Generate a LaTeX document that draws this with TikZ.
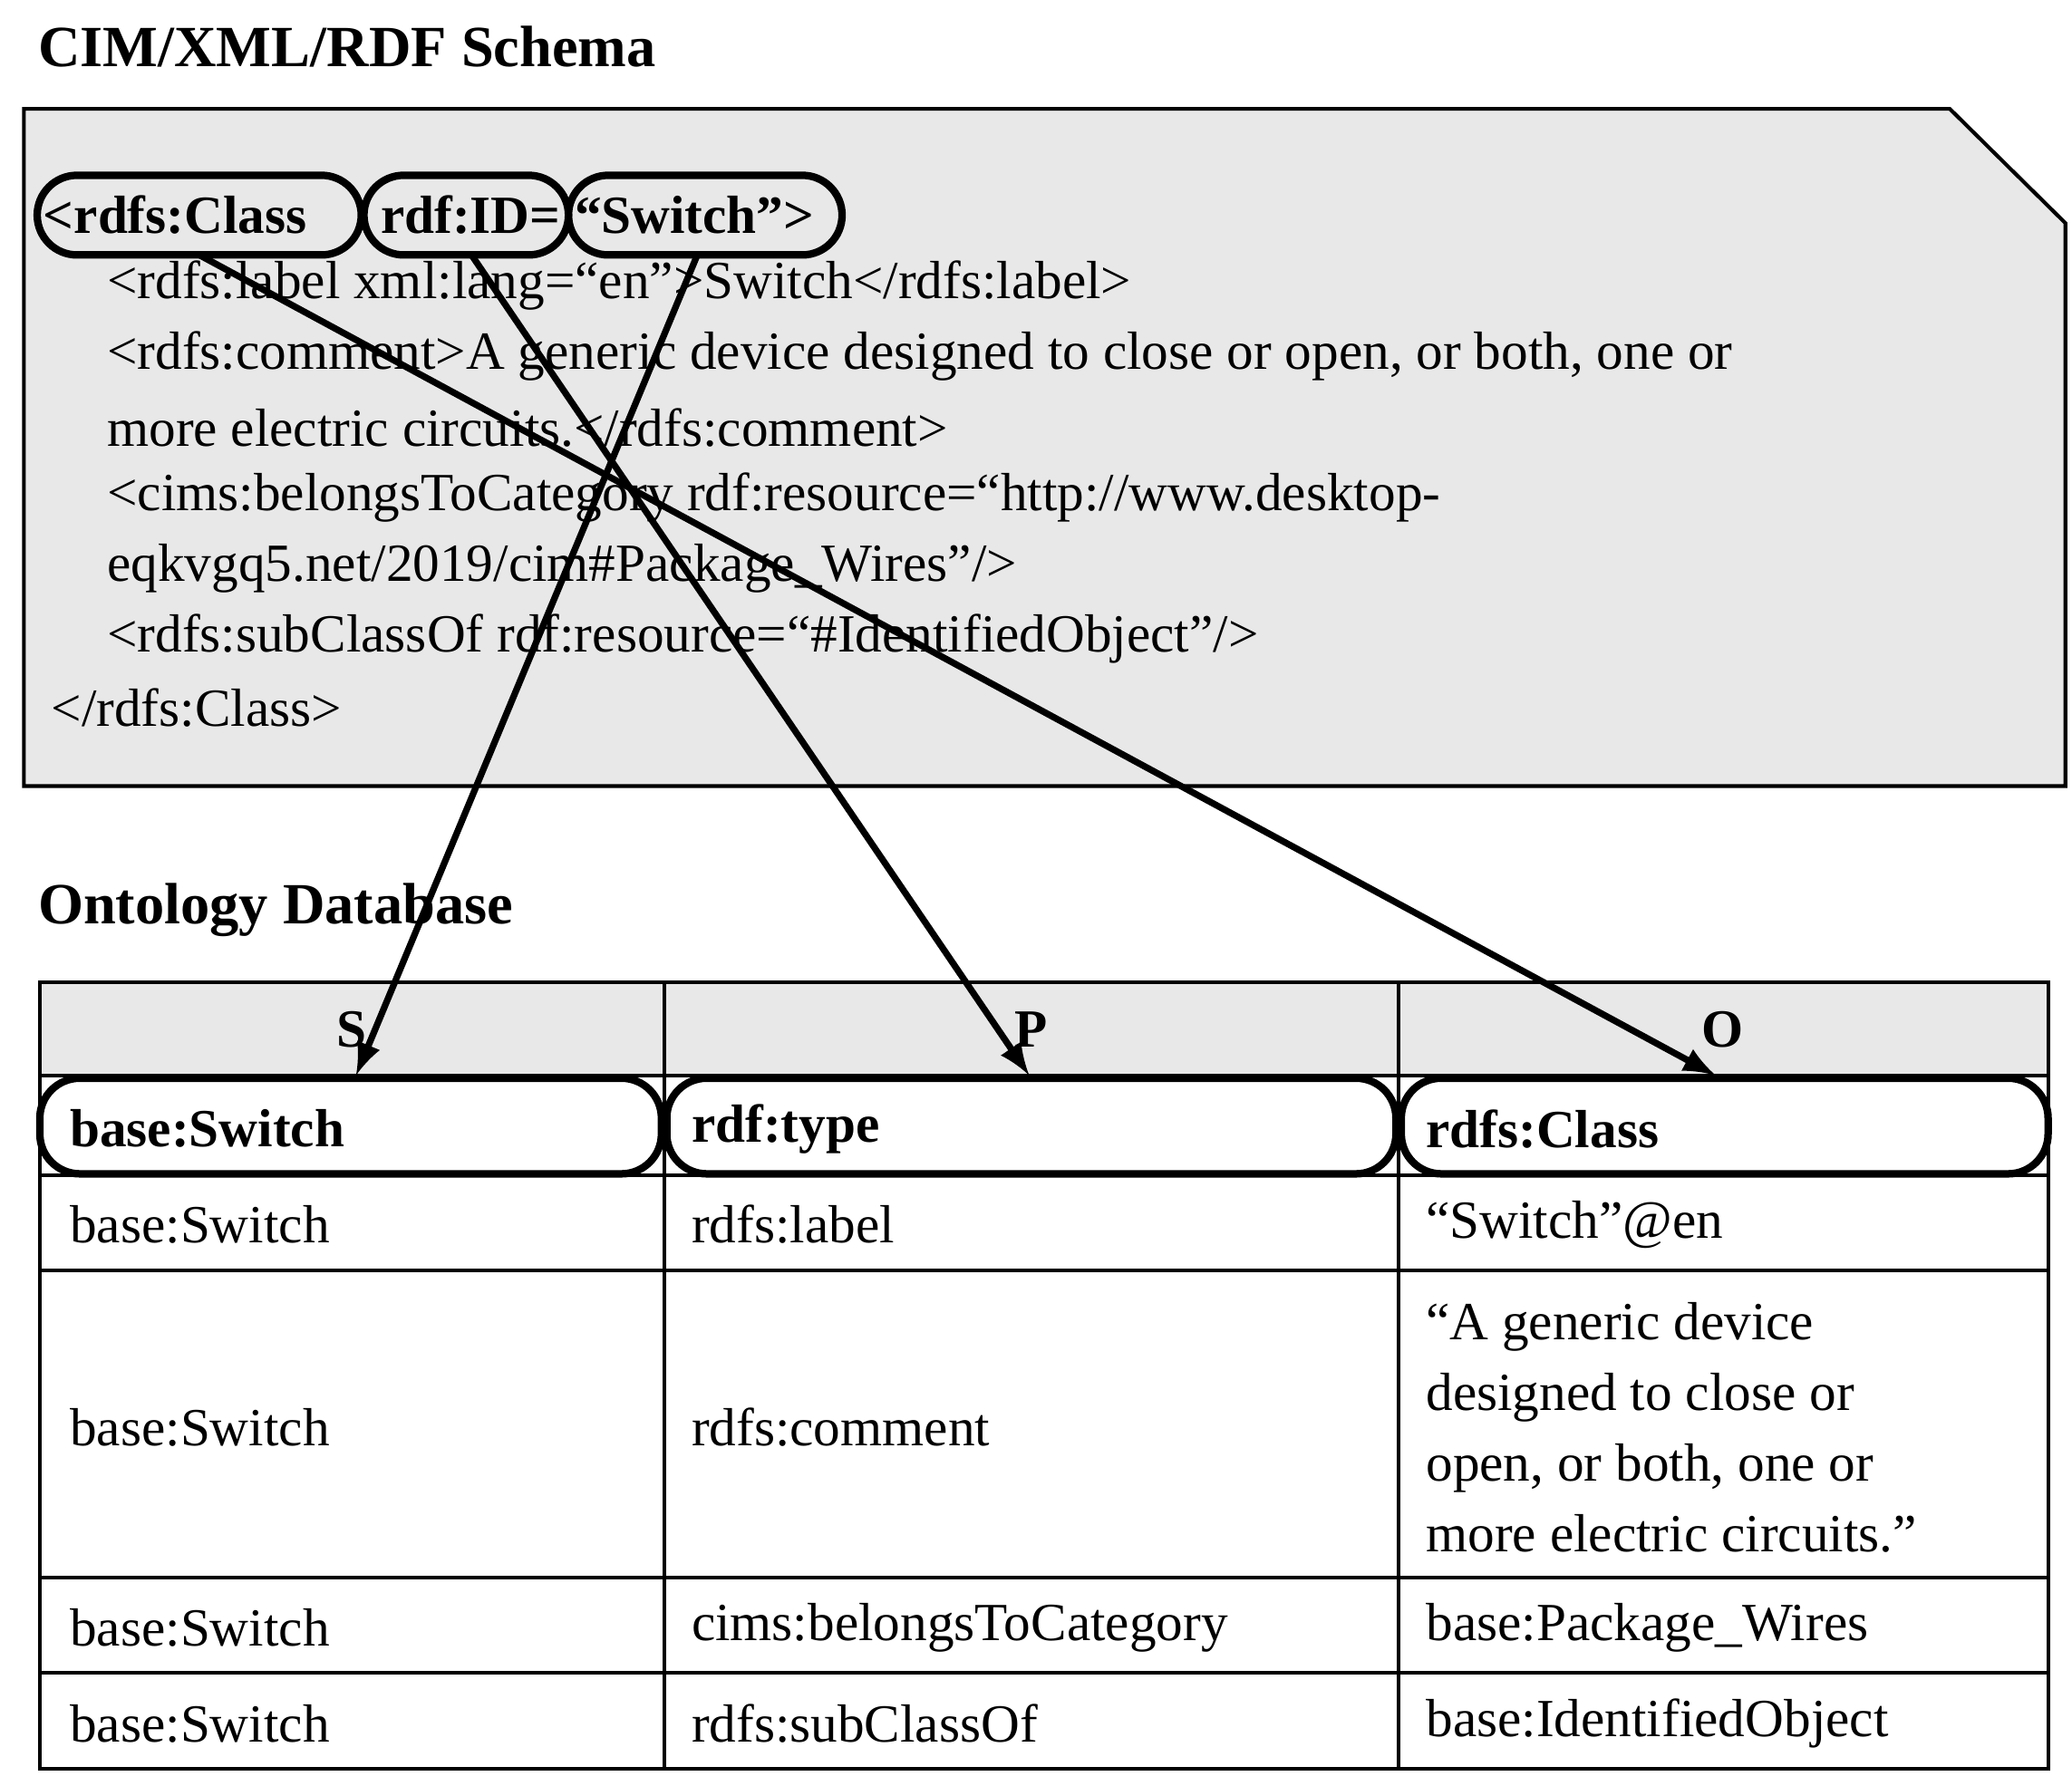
\documentclass[tikz,border=0pt]{standalone}
\usepackage{fontspec}
\setmainfont{Liberation Serif}
\begin{document}
\begin{tikzpicture}[x=0.01cm,y=-0.01cm,
  txt/.style={anchor=west,inner sep=0pt,font=\fontsize{11.5pt}{14pt}\selectfont},
  btxt/.style={txt,font=\fontsize{11.5pt}{14pt}\selectfont\bfseries},
  ttl/.style={anchor=west,inner sep=0pt,font=\fontsize{12.5pt}{15pt}\selectfont\bfseries},
  ov/.style={draw,line width=1.6pt,rounded corners=0.3cm},
  arr/.style={line width=1.4pt,-latex}]
\useasboundingbox (0,0) rectangle (1560,1345);
\node[ttl] (t1) at (28,35) {CIM/XML/RDF Schema};
\draw[fill=black!9,line width=0.8pt] (18,82) -- (1468,82) -- (1555,168) -- (1555,592) -- (18,592) -- cycle;
\draw[ov] (28,132) rectangle (272,192);
\draw[ov] (274,132) rectangle (428,192);
\draw[ov] (428,132) rectangle (634,192);
\node[btxt] (h1) at (32,162) {<rdfs:Class};
\node[btxt] (h2) at (286,162) {rdf:ID=};
\node[btxt] (h3) at (432,162) {“Switch”>};
\coordinate (c1) at (150,192);
\coordinate (c2) at (355,192);
\coordinate (c3) at (525,192);
\node[txt] (l1) at (80,215) {<rdfs:label xml:lang=“en”>Switch</rdfs:label>};
\node[txt] (l2) at (80,268) {<rdfs:comment>A generic device designed to close or open, or both, one or};
\node[txt] (l3) at (80,322) {more electric circuits.</rdfs:comment>};
\node[txt] (l4) at (80,375) {<cims:belongsToCategory rdf:resource=“http://www.desktop-};
\node[txt] (l5) at (80,428) {eqkvgq5.net/2019/cim\#Package\_Wires”/>};
\node[txt] (l6) at (80,481) {<rdfs:subClassOf rdf:resource=“\#IdentifiedObject”/>};
\node[txt] (l7) at (38,533) {</rdfs:Class>};
\node[ttl] (t2) at (28,685) {Ontology Database};
% table
\fill[black!9] (30,740) rectangle (1542,810);
\draw[line width=0.8pt] (30,740) rectangle (1542,1332);
\foreach \y in {810,885,957,1188,1260} \draw[line width=0.8pt] (30,\y) -- (1542,\y);
\foreach \x in {500,1053} \draw[line width=0.8pt] (\x,740) -- (\x,1332);
\node[btxt,anchor=center] (S) at (265,775) {S};
\node[btxt,anchor=center] (P) at (776,775) {P};
\node[btxt,anchor=center] (O) at (1297,775) {O};
\draw[ov,fill=white] (30,812) rectangle (498,884);
\draw[ov,fill=white] (502,812) rectangle (1051,884);
\draw[ov,fill=white] (1055,812) rectangle (1542,884);
\node[btxt] (r1a) at (52,850) {base:Switch};
\node[btxt] (r1b) at (520,850) {rdf:type};
\node[btxt] (r1c) at (1073,850) {rdfs:Class};
\node[txt] at (52,922) {base:Switch};
\node[txt] at (520,922) {rdfs:label};
\node[txt] at (1073,922) {“Switch”@en};
\node[txt] at (52,1075) {base:Switch};
\node[txt] at (520,1075) {rdfs:comment};
\node[txt,align=left,font=\fontsize{11.5pt}{15.1pt}\selectfont] at (1073,1075) {“A generic device\\designed to close or\\open, or both, one or\\more electric circuits.”};
\node[txt] at (52,1226) {base:Switch};
\node[txt] at (520,1226) {cims:belongsToCategory};
\node[txt] at (1073,1226) {base:Package\_Wires};
\node[txt] at (52,1298) {base:Switch};
\node[txt] at (520,1298) {rdfs:subClassOf};
\node[txt] at (1073,1298) {base:IdentifiedObject};
\coordinate (d1) at (268,810);
\coordinate (d2) at (775,810);
\coordinate (d3) at (1292,810);
\draw[arr] (c1) -- (d3);
\draw[arr] (c2) -- (d2);
\draw[arr] (c3) -- (d1);
\end{tikzpicture}
\end{document}
